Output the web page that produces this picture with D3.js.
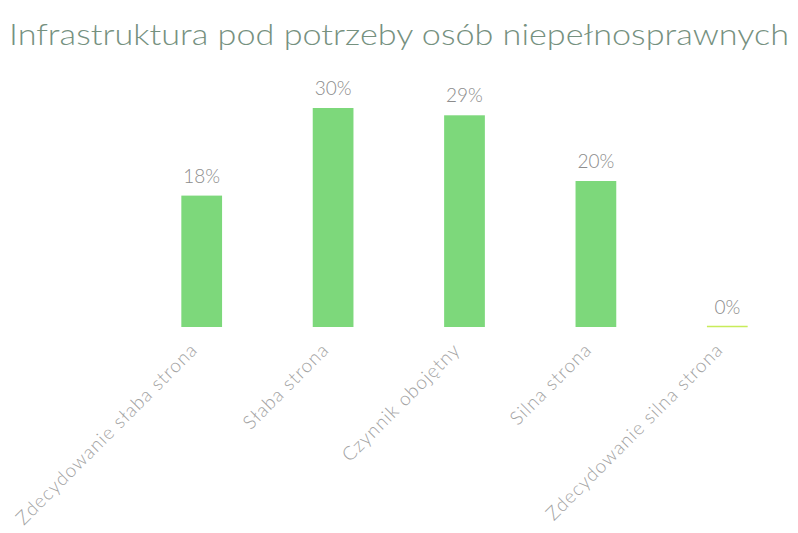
<!DOCTYPE html>
<html>
<head>
<meta charset="utf-8">
<script src="https://d3js.org/d3.v7.min.js"></script>
<style>
body { margin: 0; background: #fff; }
svg text { font-family: Lato, 'Open Sans', sans-serif; }
</style>
</head>
<body>
<svg id="svg"></svg>
<script>
const categories = ["Zdecydowanie słaba strona", "Słaba strona", "Czynnik obojętny", "Silna strona", "Zdecydowanie silna strona"];
const values = [18, 30, 29, 20, 0];
const labels = ["18%", "30%", "29%", "20%", "0%"];

const width = 798, height = 533;
const svg = d3.select("#svg").attr("width", width).attr("height", height);

svg.append("text")
  .attr("x", 9).attr("y", 45)
  .attr("textLength", 780).attr("lengthAdjust", "spacingAndGlyphs")
  .attr("fill", "#76917f")
  .style("font-size", "30px")
  .style("font-weight", 300)
  .text("Infrastruktura pod potrzeby osób niepełnosprawnych");

const x = d3.scaleBand().domain(categories).range([136, 793]).paddingInner(0.69).paddingOuter(0.345);
const y = d3.scaleLinear().domain([0, 30]).range([327, 108]);

const g = svg.append("g");
g.selectAll("rect.bar")
  .data(values)
  .enter().append("rect")
  .attr("class", "bar")
  .attr("x", (d, i) => x(categories[i]))
  .attr("width", x.bandwidth())
  .attr("y", d => y(d))
  .attr("height", d => y(0) - y(d))
  .attr("fill", "#7dd87b");

// zero bar drawn as thin line
g.selectAll("line.zero")
  .data(values.filter(v => v === 0))
  .enter().append("line")
  .attr("x1", x(categories[4])).attr("x2", x(categories[4]) + x.bandwidth())
  .attr("y1", y(0) - 0.5).attr("y2", y(0) - 0.5)
  .attr("stroke", "#c8ec5a").attr("stroke-width", 1.5);

g.selectAll("text.val")
  .data(values)
  .enter().append("text")
  .attr("class", "val")
  .attr("x", (d, i) => x(categories[i]) + x.bandwidth() / 2)
  .attr("y", d => y(d) - 13)
  .attr("text-anchor", "middle")
  .attr("fill", "#8c8c8c")
  .style("font-size", "19px")
  .style("font-weight", 300)
  .text((d, i) => labels[i]);

const xAxis = svg.append("g")
  .attr("transform", `translate(0,${y(0)})`)
  .call(d3.axisBottom(x).tickSize(0).tickPadding(0));
xAxis.select(".domain").remove();
xAxis.selectAll("text")
  .attr("fill", "#a2a2a2")
  .style("font-size", "19px")
  .style("font-weight", 300)
  .style("letter-spacing", "1px")
  .attr("text-anchor", "end")
  .attr("dy", 0)
  .attr("transform", "translate(-3,24) rotate(-45)");
</script>
</body>
</html>
